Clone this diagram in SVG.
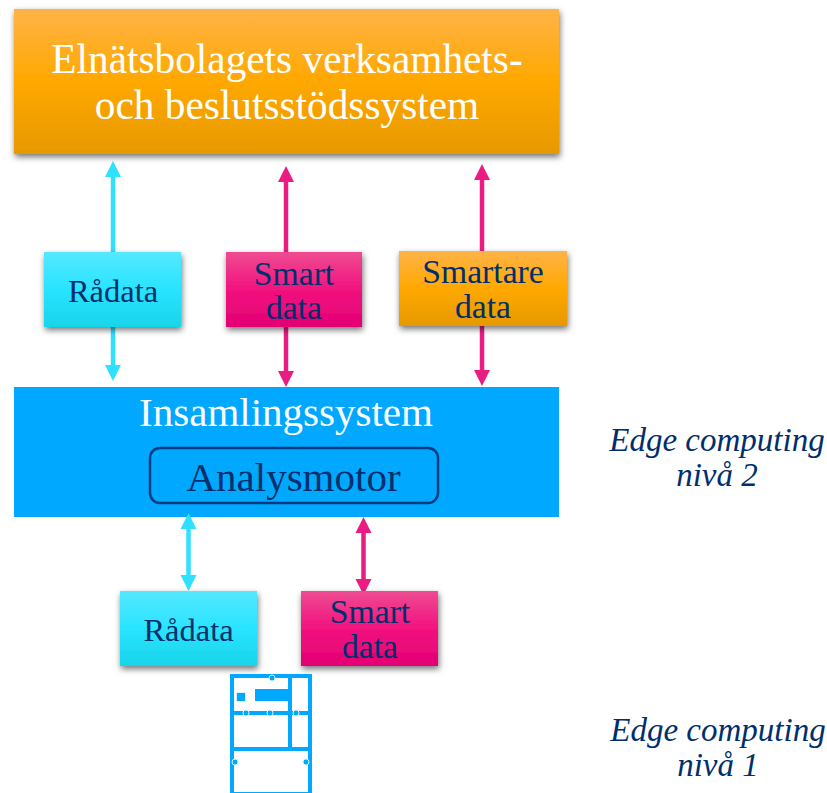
<svg xmlns="http://www.w3.org/2000/svg" width="827" height="793" viewBox="0 0 827 793">
<style>
text{font-family:"Liberation Serif","DejaVu Serif",serif;text-anchor:middle}
.d{fill:#002f6c}
.w{fill:#fff}
.i{font-style:italic;font-size:33px;fill:#002f6c}
.b{font-size:32.500px}
.s{font-size:33.700px}
.c{stroke:#2fe0ff;stroke-width:4.500;fill:none}
.p{stroke:#ea1c82;stroke-width:4.500;fill:none}
.ch{fill:#2fe0ff}
.ph{fill:#ea1c82}
.m{fill:#00a8ff}
.h{fill:#00a8ff;stroke:#d8f2ff;stroke-width:1}
</style>
<defs>
<linearGradient id="go" x1="0" y1="0" x2="0" y2="1"><stop offset="0" stop-color="#ffb347"/><stop offset=".5" stop-color="#ffa800"/><stop offset="1" stop-color="#e69900"/></linearGradient>
<linearGradient id="gc" x1="0" y1="0" x2="0" y2="1"><stop offset="0" stop-color="#55e8ff"/><stop offset=".5" stop-color="#29e4ff"/><stop offset="1" stop-color="#19d4ea"/></linearGradient>
<linearGradient id="gp" x1="0" y1="0" x2="0" y2="1"><stop offset="0" stop-color="#ee4c92"/><stop offset=".5" stop-color="#f2127f"/><stop offset="1" stop-color="#e30074"/></linearGradient>
<filter id="s" x="-10%" y="-15%" width="120%" height="135%"><feDropShadow dx="1" dy="3" stdDeviation="3" flood-color="#000" flood-opacity=".55"/></filter>
</defs>
<g id="connectors">
<path class="c" d="M113 172V252M113 327V370"/><path class="ch" d="M113 161l8 16h-16zM113 381l8-16h-16z"/>
<path class="p" d="M286 176V252M286 327V376"/><path class="ph" d="M286 166l8 16h-16zM286 387l8-16h-16z"/>
<path class="p" d="M482 174V251M482 326V375"/><path class="ph" d="M482 164l8 16h-16zM482 386l8-16h-16z"/>
</g>
<g id="top"><rect x="14" y="9" width="545" height="145" fill="url(#go)" filter="url(#s)"/>
<text class="w" x="287" y="73" font-size="41.300px">Elnätsbolagets verksamhets-</text><text class="w" x="287" y="119" font-size="41.300px">och beslutsstödssystem</text></g>
<g id="radata1"><rect x="44" y="252" width="137" height="75" fill="url(#gc)" filter="url(#s)"/><text class="d b" x="113" y="302">Rådata</text></g>
<g id="smart1"><rect x="226" y="252" width="136" height="75" fill="url(#gp)" filter="url(#s)"/><text class="d s" x="294" y="285">Smart</text><text class="d s" x="294" y="319">data</text></g>
<g id="smartare"><rect x="399" y="251" width="168" height="75" fill="url(#go)" filter="url(#s)"/><text class="d s" x="483" y="283">Smartare</text><text class="d s" x="483" y="318">data</text></g>
<g id="insamling"><rect x="14" y="387" width="545" height="130" fill="#00a8ff"/><text class="w" x="286" y="426" font-size="41px">Insamlingssystem</text></g>
<g id="analysmotor"><rect x="150" y="448" width="288" height="55" rx="10" fill="#00a8ff" stroke="#003a80" stroke-width="2.500"/><text class="d" x="293.500" y="491" font-size="41px">Analysmotor</text></g>
<g id="connectors2">
<path class="c" d="M188.500 525V580"/><path class="ch" d="M188.500 513l8 16h-16zM188.500 591l8-16h-16z"/>
<path class="p" d="M363.500 530V585"/><path class="ph" d="M363.500 517l8 16h-16zM363.500 595l8-16h-16z"/>
</g>
<g id="radata2"><rect x="120" y="591" width="137" height="75" fill="url(#gc)" filter="url(#s)"/><text class="d b" x="188.500" y="641">Rådata</text></g>
<g id="smart2"><rect x="301" y="591" width="137" height="75" fill="url(#gp)" filter="url(#s)"/><text class="d s" x="370" y="623">Smart</text><text class="d s" x="370" y="658">data</text></g>
<g id="meter">
<path class="m" fill-rule="evenodd" d="M230 674H312V793H230ZM234 678V711H288V678ZM292 678V711H308V678ZM234 715V747H288V715ZM292 715V747H308V715ZM234 751V792H308V751Z"/>
<rect class="m" x="255" y="689" width="35" height="12"/><rect class="h" x="236.500" y="692.500" width="9" height="9"/>
<circle class="h" cx="272" cy="678" r="3"/><circle class="h" cx="246" cy="713" r="3"/><circle class="h" cx="270" cy="713" r="3"/><circle class="h" cx="296" cy="713" r="3"/><circle class="h" cx="235" cy="762" r="3"/><circle class="h" cx="306" cy="762" r="3"/>
</g>
<g id="level2"><text class="i" x="717" y="451">Edge computing</text><text class="i" x="717" y="486">nivå 2</text></g>
<g id="level1"><text class="i" x="718" y="741">Edge computing</text><text class="i" x="718" y="776">nivå 1</text></g>
</svg>
